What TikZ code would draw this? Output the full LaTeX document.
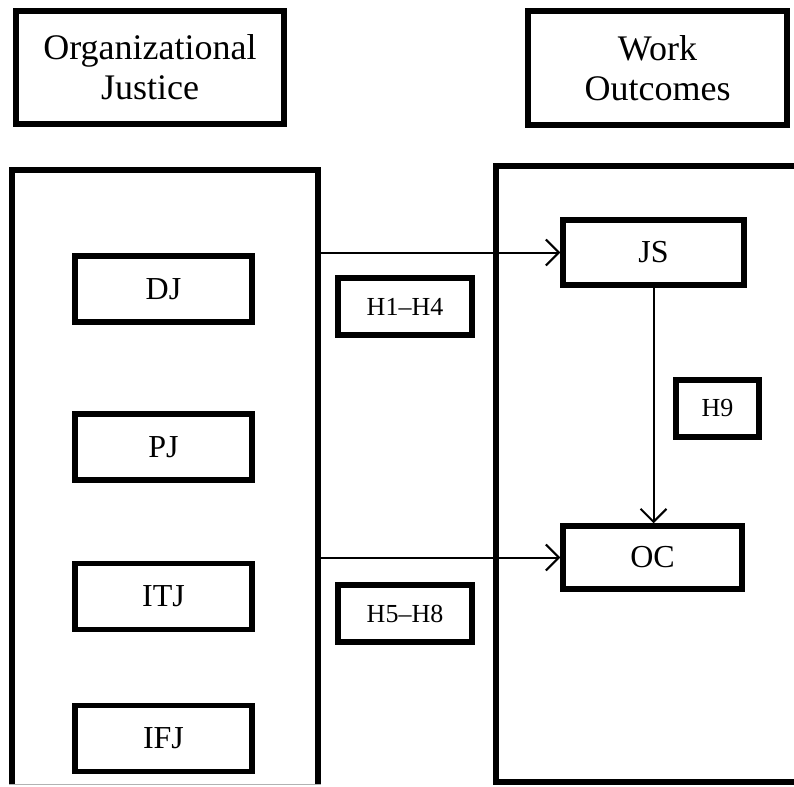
\documentclass[tikz,border=0pt]{standalone}
\usepackage{fontspec}
\setmainfont{Liberation Serif}
\usetikzlibrary{arrows.meta}
\begin{document}
\begin{tikzpicture}[x=1pt,y=-1pt,
  title/.style={draw,line width=6pt,align=center,inner sep=0pt,font=\fontsize{36}{40}\selectfont},
  item/.style={draw,line width=5.5pt,inner sep=0pt,minimum width=177pt,minimum height=66pt,font=\fontsize{32}{34}\selectfont},
  hyp/.style={draw,line width=5.5pt,inner sep=0pt,minimum height=57pt,font=\fontsize{26}{28}\selectfont},
  frame/.style={line width=6pt},
  link/.style={line width=2pt,-{Straight Barb[length=13pt,width=26pt,line width=2pt]}}]
\useasboundingbox (0,0) rectangle (794,786);
% group frames
\draw[frame] (12,784) -- (12,170) -- (318,170) -- (318,784);
\draw[gray!60,line width=0.8pt] (9,784) -- (321,784);
\draw[frame] (810,166) -- (496,166) -- (496,782) -- (810,782);
\coordinate (lefte) at (318,170);
% titles
\node[title,minimum width=268pt,minimum height=113pt] (org) at (150,67.5) {Organizational\\Justice};
\node[title,minimum width=259pt,minimum height=114pt] (work) at (657.5,68) {Work\\Outcomes};
% justice items
\node[item] (dj) at (163.5,289) {DJ};
\node[item] (pj) at (163.5,447) {PJ};
\node[item] (itj) at (163.5,596.5) {ITJ};
\node[item] (ifj) at (163.5,738.5) {IFJ};
% outcomes
\node[item,minimum width=181pt,minimum height=65pt] (js) at (653.5,252.5) {JS};
\node[item,minimum width=179pt,minimum height=63pt] (oc) at (652.5,557.5) {OC};
% hypotheses
\node[hyp,minimum width=134pt] (h14) at (405,306.5) {H1–H4};
\node[hyp,minimum width=134pt] (h58) at (405,613.5) {H5–H8};
\node[hyp,minimum width=83pt] (h9) at (717.5,408.5) {H9};
% connectors
\draw[link] (js.west -| lefte) -- (js.west);
\draw[link] (oc.west -| lefte) -- (oc.west);
\draw[link] (js.south) -- (js.south |- oc.north);
\end{tikzpicture}
\end{document}
